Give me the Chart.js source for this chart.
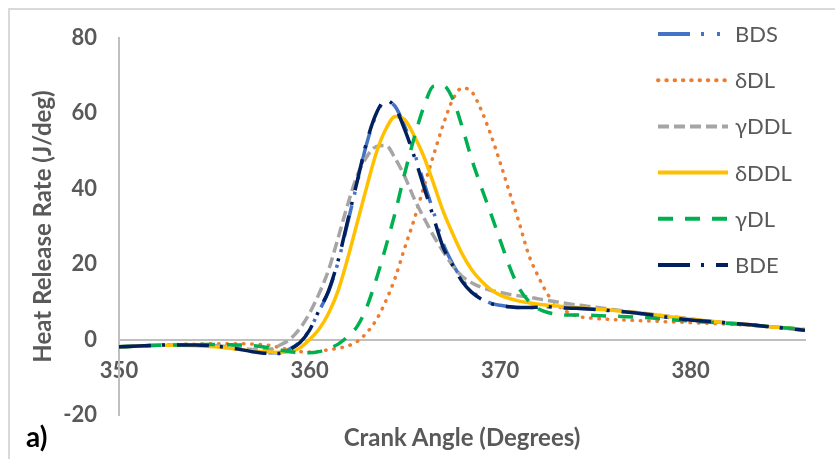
<!DOCTYPE html>
<html>
<head>
<meta charset="utf-8">
<script src="https://cdn.jsdelivr.net/npm/chart.js@4"></script>
<style>
  body { margin: 0; background: #fff; }
  #wrap { position: relative; width: 835px; height: 459px; overflow: hidden; background: #fff; }
  #frame { position: absolute; left: 8px; top: 8px; width: 900px; height: 600px;
           border-left: 2px solid #d9d9d9; border-top: 2px solid #d9d9d9; }
  canvas { position: absolute; left: 0; top: 0; }
  #xtitle { position: absolute; left: 262px; top: 422px; width: 400px; text-align: center;
            font: bold 24px Lato, sans-serif; color: #595959; line-height: 30px; }
  #panel { position: absolute; left: 26px; top: 419px; font: bold 28px Lato, sans-serif; color: #000; line-height: 34px; }
</style>
</head>
<body>
<div id="wrap">
  <div id="frame"></div>
  <canvas id="chart" width="835" height="459"></canvas>
  <div id="xtitle">Crank Angle (Degrees)</div>
  <div id="panel">a)</div>
</div>
<script>
// ── Data ──────────────────────────────────────────────────────────────────────
const angle = [
  350, 351, 352, 353, 354, 355, 356, 357, 358,
  358.5, 359, 359.5, 360, 360.5, 361, 361.5, 362, 362.5, 363, 363.5, 364, 364.5, 365, 365.5, 366,
  366.5, 367, 367.5, 368, 368.5, 369, 369.5, 370, 370.5, 371, 371.5, 372, 372.5, 373, 373.5, 374,
  375, 376, 377, 378, 379, 380, 381, 382, 383, 384, 385, 386
];

const bdsHRR = [
  -1.9, -1.7, -1.5, -1.4, -1.4, -1.7, -2.2, -3.0, -3.5,
  -3.4, -2.4, -0.6, 2.6, 7.6, 12.8, 20.6, 31.0, 41.5, 52.0, 59.6, 63.2, 61.8, 56.5, 49.5, 41.6,
  34.0, 25.6, 20.2, 16.0, 12.9, 11.0, 9.7, 9.1, 8.7, 8.5, 8.5, 8.6, 8.7, 8.6, 8.4, 8.3,
  8.0, 7.6, 7.1, 6.5, 5.8, 5.2, 4.8, 4.4, 4.0, 3.5, 3.0, 2.5
];

const deltaDL = [
  -1.9, -1.7, -1.5, -1.3, -1.2, -1.1, -1.1, -1.2, -1.6,
  -2.2, -2.8, -3.2, -3.3, -3.1, -2.7, -2.3, -1.7, -0.5, 1.8, 5.2, 10.2, 16.5, 24.4, 32.0, 40.5,
  48.8, 56.8, 63.5, 66.7, 65.8, 61.0, 54.5, 47.0, 39.0, 31.0, 22.5, 16.8, 12.0, 9.2, 7.4, 6.3,
  5.6, 5.3, 5.1, 4.9, 4.7, 4.5, 4.3, 4.1, 3.8, 3.5, 3.1, 2.7
];

const gammaDDL = [
  -1.9, -1.7, -1.5, -1.4, -1.4, -1.6, -2.0, -2.6, -2.5,
  -1.3, 0.2, 3.0, 7.0, 12.2, 18.5, 27.0, 35.8, 43.5, 48.5, 51.2, 51.5, 48.0, 43.2, 37.3, 32.3,
  27.6, 23.5, 19.7, 16.8, 15.1, 13.9, 13.1, 12.5, 12.0, 11.6, 11.3, 10.8, 10.4, 10.0, 9.6, 9.2,
  8.6, 7.9, 7.3, 6.7, 6.1, 5.5, 4.9, 4.4, 3.9, 3.5, 3.1, 2.7
];

const deltaDDL = [
  -1.9, -1.7, -1.5, -1.5, -1.6, -1.9, -2.4, -3.0, -3.3,
  -3.4, -3.2, -2.2, 0.0, 2.8, 7.0, 13.0, 21.5, 31.0, 40.5, 49.5, 55.8, 59.2, 58.3, 54.0, 48.5,
  41.5, 34.2, 28.2, 22.8, 18.6, 15.6, 13.3, 11.8, 10.9, 10.2, 9.8, 9.4, 9.1, 8.9, 8.7, 8.5,
  8.1, 7.7, 7.2, 6.6, 6.0, 5.4, 4.9, 4.4, 4.0, 3.5, 3.1, 2.7
];

const gammaDL = [
  -1.9, -1.7, -1.5, -1.4, -1.3, -1.3, -1.4, -1.6, -2.3,
  -2.8, -3.2, -3.5, -3.5, -3.2, -2.4, -1.2, 0.8, 3.5, 8.6, 16.0, 24.6, 33.8, 44.2, 53.7, 61.8,
  67.2, 67.4, 64.0, 56.6, 48.0, 40.6, 33.6, 26.4, 19.3, 13.6, 10.2, 8.2, 7.2, 6.7, 6.5, 6.5,
  6.4, 6.2, 6.0, 5.7, 5.3, 4.9, 4.6, 4.3, 3.9, 3.5, 3.1, 2.7
];

const bdeHRR = [
  -1.9, -1.7, -1.5, -1.4, -1.4, -1.7, -2.3, -3.2, -3.7,
  -3.6, -2.5, -0.8, 2.5, 7.8, 13.0, 21.0, 31.5, 42.0, 52.5, 60.0, 63.5, 61.5, 55.6, 48.5, 40.5,
  32.5, 24.6, 19.8, 15.5, 12.6, 10.8, 9.6, 9.0, 8.7, 8.5, 8.5, 8.6, 8.7, 8.6, 8.4, 8.3,
  8.0, 7.6, 7.1, 6.5, 5.8, 5.2, 4.8, 4.4, 4.0, 3.5, 3.0, 2.5
];

const xTicks = { min: 350, max: 386, step: 10 };
const yTicks = { min: -20, max: 80, step: 20 };

// ── Series styling (Excel-like dash patterns) ─────────────────────────────────
const series = [
  { label: 'BDS',  values: bdsHRR,   color: '#4472C4', dash: [32, 11, 3, 13, 3, 13], cap: 'butt' },
  { label: 'δDL',  values: deltaDL,  color: '#ED7D31', dash: [0.5, 7.8],             cap: 'round' },
  { label: 'γDDL', values: gammaDDL, color: '#A5A5A5', dash: [11, 5],                cap: 'butt' },
  { label: 'δDDL', values: deltaDDL, color: '#FFC000', dash: [],                     cap: 'butt' },
  { label: 'γDL',  values: gammaDL,  color: '#00B050', dash: [15, 12],               cap: 'butt' },
  { label: 'BDE',  values: bdeHRR,   color: '#002060', dash: [32, 11, 3, 12],        cap: 'butt' },
];

const TEXT = '#595959';
const AXIS = '#bfbfbf';

// ── Legend drawn over the plot, like Excel does ───────────────────────────────
const sideLegend = {
  id: 'sideLegend',
  afterDraw(chart) {
    const c = chart.ctx;
    chart.data.datasets.forEach((ds, i) => {
      const y = 34 + i * 46.2;
      c.save();
      c.strokeStyle = ds.borderColor;
      c.lineWidth = 4;
      c.lineCap = ds.borderCapStyle;
      c.setLineDash(ds.borderDash);
      c.beginPath();
      c.moveTo(658, y);
      c.lineTo(728, y);
      c.stroke();
      c.setLineDash([]);
      c.fillStyle = TEXT;
      c.font = '22px Lato, sans-serif';
      c.textBaseline = 'middle';
      c.fillText(ds.label, 735, y + 1);
      c.restore();
    });
  }
};

const datasets = series.map((s, i) => ({
  label: s.label,
  data: angle.map((a, k) => ({ x: a, y: s.values[k] })),
  borderColor: s.color,
  borderWidth: 3.5,
  borderDash: s.dash,
  borderCapStyle: s.cap,
  pointRadius: 0,
  fill: false,
  cubicInterpolationMode: 'monotone',
  order: series.length - 1 - i, // later series on top
}));

const tickFont = { family: 'Lato', size: 22, weight: 'bold' };

new Chart(document.getElementById('chart'), {
  type: 'line',
  data: { datasets },
  options: {
    responsive: false,
    animation: false,
    layout: { padding: { top: 38, right: 30, bottom: 44, left: 0 } },
    plugins: { legend: { display: false }, tooltip: { enabled: false } },
    scales: {
      x: {
        type: 'linear',
        min: xTicks.min,
        max: xTicks.max,
        position: { y: 0 },
        ticks: { stepSize: xTicks.step, includeBounds: false, padding: 18, color: TEXT, font: tickFont, maxRotation: 0 },
        grid: { display: false, drawTicks: false },
        border: { display: true, color: AXIS, width: 2 },
      },
      y: {
        min: yTicks.min,
        max: yTicks.max,
        ticks: { stepSize: yTicks.step, padding: 22, color: TEXT, font: tickFont },
        grid: { display: false, drawTicks: false },
        border: { display: true, color: AXIS, width: 2 },
        title: {
          display: true,
          text: 'Heat Release Rate (J/deg)',
          color: TEXT,
          font: { family: 'Lato', size: 24, weight: 'bold' },
          padding: { top: 29, bottom: 0 },
        },
        afterFit: scale => { scale.width = 119; },
      }
    }
  },
  plugins: [sideLegend]
});
</script>
</body>
</html>
